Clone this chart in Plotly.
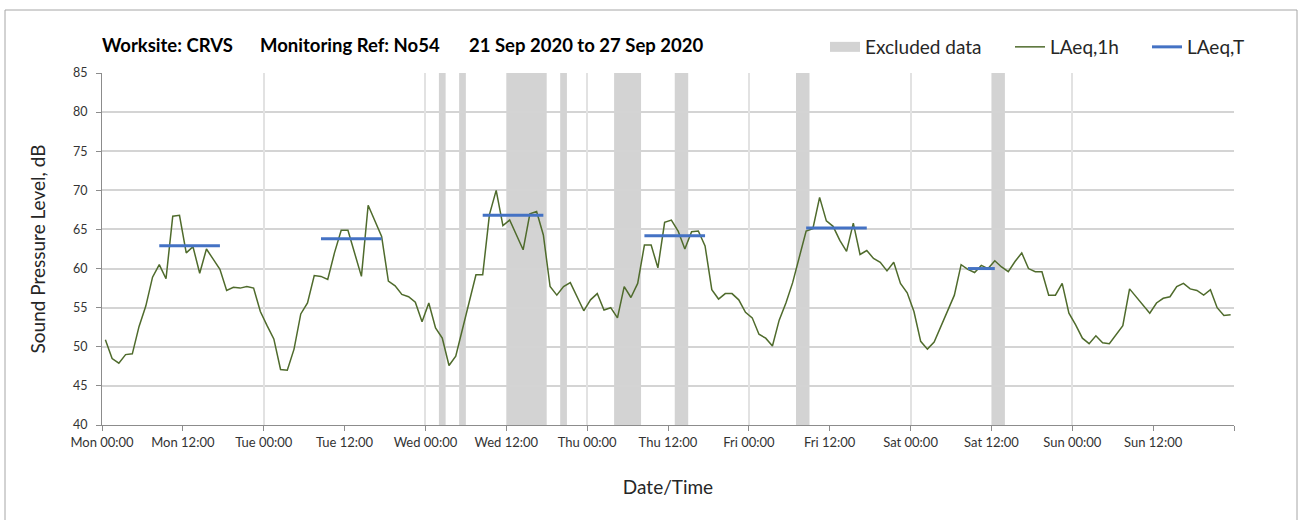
import pandas as pd
import plotly.graph_objects as go

# ---------------- data ----------------
series_start = "2020-09-21 00:30"   # first hourly value (plotted at mid-hour)
laeq_1h = [
    # Mon
    50.9, 48.5, 47.9, 49.0, 49.1, 52.6, 55.2, 58.9, 60.5, 58.7, 66.7, 66.8,
    62.0, 62.8, 59.4, 62.5, 61.2, 59.9, 57.2, 57.6, 57.5, 57.7, 57.5, 54.5,
    # Tue
    52.7, 51.0, 47.1, 47.0, 49.7, 54.2, 55.6, 59.1, 59.0, 58.6, 62.0, 64.9,
    64.9, 61.8, 59.0, 68.1, 66.1, 64.1, 58.4, 57.8, 56.7, 56.4, 55.7, 53.2,
    # Wed
    55.6, 52.4, 51.1, 47.6, 48.8, 52.4, 55.8, 59.2, 59.2, 66.9, 70.0, 65.5,
    66.2, 64.3, 62.4, 67.0, 67.3, 64.3, 57.7, 56.6, 57.7, 58.2, 56.4, 54.6,
    # Thu
    56.0, 56.8, 54.7, 55.0, 53.7, 57.7, 56.3, 58.1, 63.0, 63.0, 60.1, 65.9,
    66.2, 64.8, 62.5, 64.7, 64.8, 62.9, 57.3, 56.1, 56.8, 56.8, 56.0, 54.4,
    # Fri
    53.7, 51.6, 51.1, 50.1, 53.4, 55.6, 58.2, 61.6, 64.8, 65.1, 69.1, 66.1,
    65.4, 63.6, 62.2, 65.8, 61.8, 62.3, 61.3, 60.8, 59.7, 60.8, 58.1, 56.9,
    # Sat
    54.5, 50.7, 49.7, 50.6, 52.6, 54.7, 56.6, 60.5, 59.9, 59.5, 60.4, 60.0,
    61.0, 60.2, 59.6, 60.9, 62.0, 60.0, 59.6, 59.6, 56.6, 56.6, 58.1, 54.3,
    # Sun
    52.8, 51.1, 50.4, 51.4, 50.5, 50.4, 51.5, 52.7, 57.4, 56.4, 55.4, 54.3,
    55.6, 56.2, 56.4, 57.7, 58.1, 57.4, 57.2, 56.6, 57.3, 55.0, 54.0, 54.1,
]

leq_t_start = ["2020-09-21 08:30", "2020-09-22 08:30", "2020-09-23 08:30",
               "2020-09-24 08:30", "2020-09-25 08:30", "2020-09-26 08:30"]
leq_t_end = ["2020-09-21 17:30", "2020-09-22 17:30", "2020-09-23 17:30",
             "2020-09-24 17:30", "2020-09-25 17:30", "2020-09-26 12:30"]
leq_t_values = [62.9, 63.8, 66.8, 64.2, 65.2, 60.0]

excluded_start = ["2020-09-23 02:00", "2020-09-23 05:00", "2020-09-23 12:00",
                  "2020-09-23 20:00", "2020-09-24 04:00", "2020-09-24 13:00",
                  "2020-09-25 07:00", "2020-09-26 12:00"]
excluded_end = ["2020-09-23 03:00", "2020-09-23 06:00", "2020-09-23 18:00",
                "2020-09-23 21:00", "2020-09-24 08:00", "2020-09-24 15:00",
                "2020-09-25 09:00", "2020-09-26 14:00"]

axis_start = "2020-09-21 00:00"
axis_end = "2020-09-28 00:00"
tick_labels = ["Mon 00:00", "Mon 12:00", "Tue 00:00", "Tue 12:00", "Wed 00:00",
               "Wed 12:00", "Thu 00:00", "Thu 12:00", "Fri 00:00", "Fri 12:00",
               "Sat 00:00", "Sat 12:00", "Sun 00:00", "Sun 12:00", ""]
title_parts = ["Worksite: CRVS", "Monitoring Ref: No54", "21 Sep 2020 to 27 Sep 2020"]

# ---------------- figure ----------------
FONT = "Lato"
W, H = 1304, 520
ML, MR, MT, MB = 102, 70, 73, 95
PW, PH = W - ML - MR, H - MT - MB


def px_to_paper_x(px):
    return (px - ML) / PW


def px_to_paper_y(py):
    return (H - MB - py) / PH


times = pd.date_range(series_start, periods=len(laeq_1h), freq="h")
tick_vals = pd.date_range(axis_start, axis_end, freq="12h")
day_vals = pd.date_range(axis_start, axis_end, freq="24h")

fig = go.Figure()

# legend entry for excluded data (bands drawn as shapes below)
fig.add_trace(go.Scatter(x=[None], y=[None], mode="lines", name="Excluded data",
                         line=dict(color="#d3d3d3", width=12),
                         legend="legend", hoverinfo="skip"))

fig.add_trace(go.Scatter(x=times, y=laeq_1h, mode="lines", name="LAeq,1h",
                         line=dict(color="#4f6b2c", width=1.5), legend="legend2"))

lx, ly = [], []
for s, e, v in zip(leq_t_start, leq_t_end, leq_t_values):
    lx += [pd.Timestamp(s), pd.Timestamp(e), None]
    ly += [v, v, None]
fig.add_trace(go.Scatter(x=lx, y=ly, mode="lines", name="LAeq,T",
                         line=dict(color="#4472c4", width=3), connectgaps=False,
                         legend="legend3"))

# carrier for day gridlines (vertical)
fig.add_trace(go.Scatter(x=[None], y=[None], xaxis="x2", showlegend=False))

shapes = []
for s, e in zip(excluded_start, excluded_end):
    shapes.append(dict(type="rect", xref="x", yref="paper", x0=s, x1=e, y0=0, y1=1,
                       fillcolor="#d3d3d3", line=dict(width=0), layer="below"))
# outer chart border
shapes.append(dict(type="rect", xref="paper", yref="paper",
                   x0=px_to_paper_x(5), x1=px_to_paper_x(1297),
                   y0=px_to_paper_y(530), y1=px_to_paper_y(10),
                   line=dict(color="#a6a6a6", width=1), fillcolor="rgba(0,0,0,0)",
                   layer="above"))

title_x = [100, 258, 467]
annotations = []
for txt, x in zip(title_parts, title_x):
    annotations.append(dict(text="<b>%s</b>" % txt, xref="paper", yref="paper",
                            x=px_to_paper_x(x), y=px_to_paper_y(45),
                            xanchor="left", yanchor="middle", showarrow=False,
                            font=dict(family=FONT, size=18.5, color="#000000")))

LEG_FONT = dict(family=FONT, size=19, color="#262626")


def legend_at(px):
    return dict(orientation="h", x=px_to_paper_x(px), xanchor="left",
                y=px_to_paper_y(47), yanchor="middle", font=LEG_FONT,
                bgcolor="rgba(0,0,0,0)", itemwidth=30, borderwidth=0)


fig.update_layout(
    width=W, height=H,
    margin=dict(l=ML, r=MR, t=MT, b=MB, autoexpand=False),
    paper_bgcolor="white", plot_bgcolor="rgba(0,0,0,0)",
    font=dict(family=FONT, size=12, color="#333333"),
    shapes=shapes, annotations=annotations,
    showlegend=True,
    legend=legend_at(825),
    legend2=legend_at(1010),
    legend3=legend_at(1147),
    xaxis=dict(type="date", range=[axis_start, axis_end],
               tickvals=list(tick_vals), ticktext=tick_labels,
               showgrid=False, zeroline=False,
               showline=True, linecolor="#8c8c8c", linewidth=1,
               ticks="outside", ticklen=5, tickcolor="#8c8c8c",
               tickfont=dict(family=FONT, size=13, color="#333333"),
               title=dict(text="Date/Time", font=dict(family=FONT, size=19, color="#262626"),
                          standoff=32)),
    xaxis2=dict(type="date", range=[axis_start, axis_end], overlaying="x",
                tickvals=list(day_vals), showticklabels=False, ticks="",
                showgrid=True, gridcolor="#e2e2e2", gridwidth=1.5, zeroline=False,
                showline=False),
    yaxis=dict(range=[40, 85], dtick=5, tick0=40,
               showgrid=True, gridcolor="#d4d4d4", gridwidth=1.5, zeroline=False,
               showline=True, linecolor="#8c8c8c", linewidth=1,
               ticks="outside", ticklen=5, tickcolor="#8c8c8c",
               ticklabelstandoff=6,
               tickfont=dict(family=FONT, size=12.5, color="#333333"),
               title=dict(text="Sound Pressure Level, dB",
                          font=dict(family=FONT, size=19, color="#262626"),
                          standoff=22)),
)

fig.write_html("out.html", config={"displayModeBar": False},
               post_script="document.body.style.margin='0px';")
